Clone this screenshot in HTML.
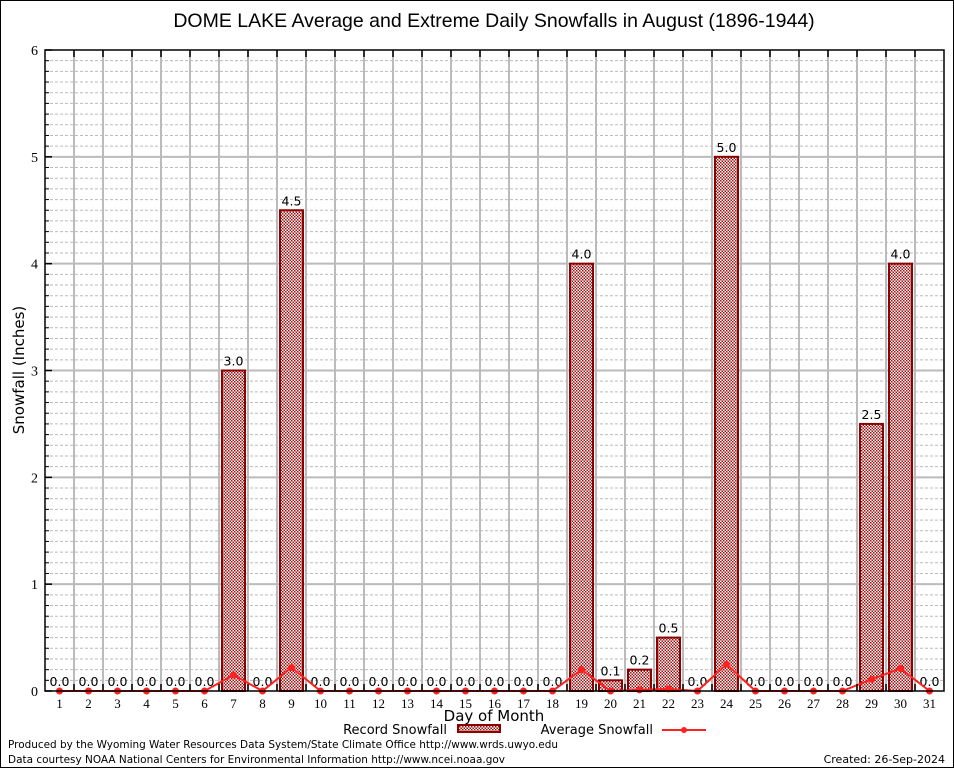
<!DOCTYPE html>
<html><head><meta charset="utf-8"><style>
body{margin:0;background:#fff}
svg{display:block;font-family:"DejaVu Sans","Liberation Sans",sans-serif}
</style></head><body>
<svg id="c" width="954" height="768" xmlns="http://www.w3.org/2000/svg">
<defs><pattern id="chk" width="3" height="3" patternUnits="userSpaceOnUse"><rect width="3" height="3" fill="#fff"/><rect width="1.5" height="1.5" fill="#a01010"/><rect x="1.5" y="1.5" width="1.5" height="1.5" fill="#a01010"/></pattern></defs>
<rect x="0.5" y="0.5" width="953" height="767" fill="#fff" stroke="#000"/>
<text x="494" y="27" font-size="19.5" text-anchor="middle" font-family="Liberation Sans, sans-serif">DOME LAKE Average and Extreme Daily Snowfalls in August (1896-1944)</text>
<g id="grid"></g><g id="bars"></g><g id="line"></g><g id="axes"></g>
<text x="24" y="370" font-size="15" text-anchor="middle" transform="rotate(-90 24 370)">Snowfall (Inches)</text>
<text x="494" y="721" font-size="15" text-anchor="middle">Day of Month</text>
<text x="447" y="734" font-size="13" text-anchor="end">Record Snowfall</text>
<rect x="458" y="725" width="42" height="7" fill="url(#chk)" stroke="#8b0000" stroke-width="2"/>
<text x="653" y="734" font-size="13" text-anchor="end">Average Snowfall</text>
<line x1="662" y1="730" x2="706" y2="730" stroke="#ff2020" stroke-width="2"/>
<circle cx="684" cy="730" r="3" fill="#ff2020"/>
<text x="8" y="748" font-size="11" textLength="550" lengthAdjust="spacingAndGlyphs">Produced by the Wyoming Water Resources Data System/State Climate Office http://www.wrds.uwyo.edu</text>
<text x="8" y="763" font-size="11" textLength="497" lengthAdjust="spacingAndGlyphs">Data courtesy NOAA National Centers for Environmental Information http://www.ncei.noaa.gov</text>
<text x="945" y="763" font-size="11" text-anchor="end">Created: 26-Sep-2024</text>
</svg>
<script>
const days=[1,2,3,4,5,6,7,8,9,10,11,12,13,14,15,16,17,18,19,20,21,22,23,24,25,26,27,28,29,30,31];
const recordSnow=[0,0,0,0,0,0,3.0,0,4.5,0,0,0,0,0,0,0,0,0,4.0,0.1,0.2,0.5,0,5.0,0,0,0,0,2.5,4.0,0];
const avgSnow=[0,0,0,0,0,0,0.15,0,0.22,0,0,0,0,0,0,0,0,0,0.2,0,0.01,0.02,0,0.25,0,0,0,0,0.11,0.21,0];
const yTicks=[0,1,2,3,4,5,6];
const NS="http://www.w3.org/2000/svg";
const L=45,R=944,T=50,B=691,yMax=6;
const step=(R-L)/days.length;
const xS=d=>L+step*(d-0.5);
const yS=v=>B-(v/yMax)*(B-T);
function mk(p,tag,a){const e=document.createElementNS(NS,tag);for(const k in a)e.setAttribute(k,a[k]);document.getElementById(p).appendChild(e);return e;}
for(let i=1;i<yMax*10;i++){const v=i/10;if(i%10===0)continue;
const g=mk('grid','line',{x1:L,x2:R,y1:yS(v),y2:yS(v),stroke:'#bbb','stroke-dasharray':'3,2','stroke-width':1});

}
yTicks.forEach(v=>{if(v===0||v===yMax)return;
const g=mk('grid','line',{x1:L,x2:R,y1:yS(v),y2:yS(v),stroke:'#bbb','stroke-width':2});

});
for(let k=1;k<days.length;k++){const x=L+step*k;
const g=mk('grid','line',{x1:x,x2:x,y1:T,y2:B,stroke:'#bbb','stroke-width':2});

}
const bw=23;
days.forEach((d,i)=>{const v=recordSnow[i];
if(v>0){const b=mk('bars','rect',{x:xS(d)-bw/2,y:yS(v),width:bw,height:B-yS(v),fill:'url(#chk)',stroke:'#8b0000','stroke-width':2});

}
const t=mk('bars','text',{x:xS(d),y:yS(v)-5,'font-size':12.5,'text-anchor':'middle'});t.textContent=v.toFixed(1);

});
const pl=mk('line','polyline',{points:days.map((d,i)=>xS(d)+','+yS(avgSnow[i])).join(' '),fill:'none',stroke:'#ff2020','stroke-width':2});


days.forEach((d,i)=>{const c=mk('line','circle',{cx:xS(d),cy:yS(avgSnow[i]),r:3.5,fill:'#ff2020'});

});
const fr=mk('axes','rect',{x:L,y:T,width:R-L,height:B-T,fill:'none',stroke:'#000','stroke-width':1.5});


yTicks.forEach(v=>{const t=mk('axes','text',{x:38,y:yS(v)+5,'font-size':14,'text-anchor':'end','font-family':'Liberation Serif, serif'});t.textContent=v;


const tk=mk('axes','line',{x1:L,x2:L+7,y1:yS(v),y2:yS(v),stroke:'#000','stroke-width':1.5});

});
for(let i=1;i<yMax*10;i++){if(i%10===0)continue;const tk=mk('axes','line',{x1:L,x2:L+4,y1:yS(i/10),y2:yS(i/10),stroke:'#000'});

}
for(let k=1;k<days.length;k++){const x=L+step*k;
const a=mk('axes','line',{x1:x,x2:x,y1:T,y2:T+7,stroke:'#000','stroke-width':1.5});


const b=mk('axes','line',{x1:x,x2:x,y1:B,y2:B-7,stroke:'#000','stroke-width':1.5});

}
days.forEach(d=>{const t=mk('axes','text',{x:xS(d),y:708,'font-size':13,'text-anchor':'middle','font-family':'Liberation Serif, serif'});t.textContent=d;

});
</script>
</body></html>
